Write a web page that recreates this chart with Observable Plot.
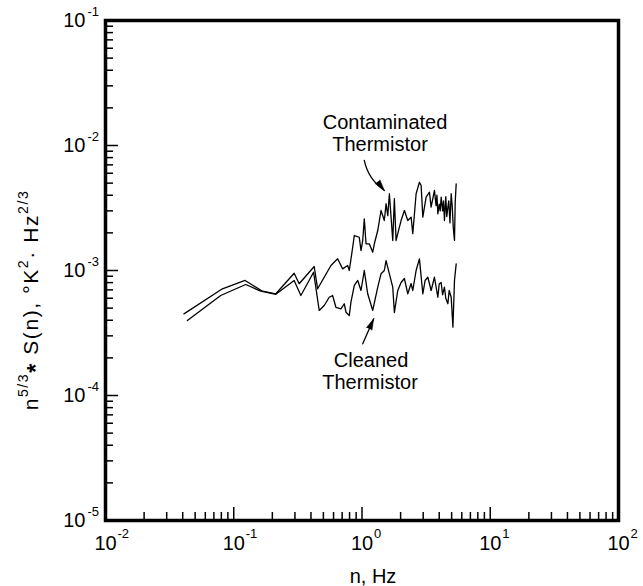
<!DOCTYPE html>
<html><head><meta charset="utf-8">
<script src="https://cdn.jsdelivr.net/npm/d3@7"></script>
<script src="https://cdn.jsdelivr.net/npm/@observablehq/plot@0.6"></script>
<style>body{margin:0;background:#fff}</style>
</head><body><div id="chart"></div>
<script>
// Contaminated thermistor: frequency n (Hz) and n^{5/3} S(n)
const contaminatedN = [0.0409,0.0816,0.1225,0.1676,0.2129,0.2958,0.3236,0.4239,0.4508,0.5726,0.6457,0.7066,0.7732,0.796,0.846,0.871,0.952,0.982,1.013,1.042,1.075,1.14,1.212,1.248,1.327,1.407,1.493,1.540,1.588,1.635,1.737,1.788,1.843,1.90,2.017,2.141,2.275,2.415,2.489,2.642,2.804,2.891,2.98,3.162,3.357,3.459,3.672,3.78,3.84,3.903,4.0,4.07,4.142,4.25,4.32,4.395,4.5,4.58,4.673,4.75,4.85,4.959,5.05,5.15,5.262,5.33,5.425];
const contaminatedV = [4.50e-4,7.14e-4,8.32e-4,6.83e-4,6.51e-4,9.51e-4,7.83e-4,1.076e-3,7.14e-4,1.096e-3,1.24e-3,1.03e-3,1.096e-3,1.0e-3,1.535e-3,1.905e-3,1.845e-3,1.445e-3,1.738e-3,2.59e-3,1.636e-3,1.636e-3,1.40e-3,1.636e-3,2.09e-3,3.02e-3,2.51e-3,3.42e-3,2.75e-3,4.11e-3,1.738e-3,3.75e-3,1.738e-3,1.97e-3,2.51e-3,3.02e-3,2.51e-3,2.67e-3,1.97e-3,4.11e-3,5.08e-3,4.79e-3,2.67e-3,3.86e-3,4.23e-3,3.21e-3,4.37e-3,3.3e-3,4.0e-3,2.84e-3,3.4e-3,3.0e-3,3.86e-3,3.0e-3,3.6e-3,2.51e-3,3.9e-3,2.7e-3,3.21e-3,3.6e-3,2.4e-3,4.11e-3,3.3e-3,2.2e-3,1.74e-3,3.5e-3,4.94e-3];
// Cleaned thermistor
const cleanedN = [0.0435,0.0791,0.124,0.1625,0.2129,0.2958,0.3337,0.4193,0.4638,0.5075,0.555,0.590,0.626,0.685,0.727,0.750,0.796,0.820,0.871,0.926,0.982,1.042,1.108,1.212,1.327,1.407,1.493,1.540,1.635,1.737,1.788,1.90,2.017,2.141,2.275,2.415,2.489,2.642,2.804,2.98,3.106,3.262,3.459,3.672,3.903,4.0,4.142,4.25,4.395,4.5,4.673,4.784,4.959,5.117,5.262,5.425];
const cleanedV = [3.98e-4,6.31e-4,7.73e-4,6.83e-4,6.45e-4,8.32e-4,6.31e-4,9.68e-4,4.79e-4,5.25e-4,6.11e-4,6.31e-4,5.08e-4,4.94e-4,5.42e-4,4.64e-4,4.37e-4,5.58e-4,7.59e-4,8.32e-4,6.92e-4,1.0e-3,6.51e-4,4.79e-4,7.35e-4,9.41e-4,1.0e-3,1.20e-3,9.41e-4,7.35e-4,4.61e-4,6.92e-4,8.02e-4,8.63e-4,6.51e-4,7.87e-4,6.92e-4,1.0e-3,1.24e-3,6.51e-4,8.32e-4,8.83e-4,6.92e-4,8.83e-4,6.11e-4,7.8e-4,8.02e-4,6.4e-4,7.35e-4,6.0e-4,5.42e-4,6.92e-4,6.11e-4,3.52e-4,8.32e-4,1.13e-3];

const xDecades = [1e-2, 1e-1, 1, 10, 100];
const xExponents = ["-2", "-1", "0", "1", "2"];
const yDecades = [1e-5, 1e-4, 1e-3, 1e-2, 1e-1];
const yExponents = ["-5", "-4", "-3", "-2", "-1"];

const labelTexts = ["Contaminated", "Thermistor", "Cleaned", "Thermistor"];
const labelN = [1.513, 1.382, 1.176, 1.155];
const labelV = [1.53e-2, 1.02e-2, 1.905e-4, 1.27e-4];

// arrows: from label towards curve
const arrowN1 = [1.042, 1.013];
const arrowV1 = [7.59e-3, 2.59e-4];
const arrowN2 = [1.494, 1.234];
const arrowV2 = [4.37e-3, 4.11e-4];
const arrowHeadRotate = [142, 24];

const contaminated = contaminatedN.map((n, i) => ({n, v: contaminatedV[i]}));
const cleaned = cleanedN.map((n, i) => ({n, v: cleanedV[i]}));
const xMinor = xDecades.slice(0, -1).flatMap(d => [2,3,4,5,6,7,8,9].map(k => d * k));
const yMinor = yDecades.slice(0, -1).flatMap(d => [2,3,4,5,6,7,8,9].map(k => d * k));
const xLab = xDecades.map((d, i) => ({d, e: xExponents[i]}));
const yLab = yDecades.map((d, i) => ({d, e: yExponents[i]}));
const labels = labelTexts.map((t, i) => ({t, n: labelN[i], v: labelV[i]}));
const arrows = arrowN1.map((n, i) => ({n1: n, v1: arrowV1[i], n2: arrowN2[i], v2: arrowV2[i], rot: arrowHeadRotate[i]}));

const W = 643, H = 586, ML = 105, MR = 25, MT = 20, MB = 66;
const FW = W - ML - MR, FH = H - MT - MB;

const chart = Plot.plot({
  width: W, height: H,
  marginLeft: ML, marginRight: MR, marginTop: MT, marginBottom: MB,
  x: {type: "log", domain: [1e-2, 1e2], axis: null},
  y: {type: "log", domain: [1e-5, 1e-1], axis: null},
  style: {fontFamily: "Liberation Sans, Arial, sans-serif", color: "black", background: "white"},
  marks: [
    Plot.tickX(xMinor, {x: d => d, insetTop: FH - 8, strokeWidth: 1.5}),
    Plot.tickX(xDecades, {x: d => d, insetTop: FH - 13, strokeWidth: 1.5}),
    Plot.tickY(yMinor, {y: d => d, insetRight: FW - 8, strokeWidth: 1.5}),
    Plot.tickY(yDecades, {y: d => d, insetRight: FW - 13, strokeWidth: 1.5}),
    Plot.line(contaminated, {x: "n", y: "v", stroke: "black", strokeWidth: 1.3, strokeLinejoin: "round"}),
    Plot.line(cleaned, {x: "n", y: "v", stroke: "black", strokeWidth: 1.3, strokeLinejoin: "round"}),
    Plot.arrow([arrows[0]], {x1: "n1", y1: "v1", x2: "n2", y2: "v2", bend: -22, headLength: 0, strokeWidth: 1.3, stroke: "black"}),
    Plot.arrow([arrows[1]], {x1: "n1", y1: "v1", x2: "n2", y2: "v2", bend: 0, headLength: 0, strokeWidth: 1.3, stroke: "black"}),
    Plot.vector(arrows, {x: "n2", y: "v2", rotate: "rot", length: 11, anchor: "end", shape: "spike", r: 3, fill: "black", stroke: "black", strokeWidth: 0.5}),
    Plot.text(labels, {x: "n", y: "v", text: "t", fontSize: 20, letterSpacing: 0.6, lineAnchor: "middle"}),
    Plot.text(xLab, {x: "d", frameAnchor: "bottom", dy: 23, text: () => "10", fontSize: 20, lineAnchor: "middle"}),
    Plot.text(xLab, {x: "d", frameAnchor: "bottom", dy: 13, dx: 12, text: "e", fontSize: 13, textAnchor: "start", lineAnchor: "middle"}),
    Plot.text(yLab, {y: "d", frameAnchor: "left", dx: -20, text: () => "10", fontSize: 20, textAnchor: "end", lineAnchor: "middle"}),
    Plot.text(yLab, {y: "d", frameAnchor: "left", dx: -18, dy: -9, text: "e", fontSize: 13, textAnchor: "start", lineAnchor: "middle"}),
    Plot.text(["n, Hz"], {frameAnchor: "bottom", dy: 56, dx: 11, text: d => d, fontSize: 20, letterSpacing: 1, lineAnchor: "middle"}),
    Plot.frame({stroke: "black", strokeWidth: 3.5})
  ]
});

// y-axis title with superscripts
const svg = d3.select(chart);
const t = svg.append("text")
  .attr("transform", "translate(38,300) rotate(-90)")
  .attr("text-anchor", "middle")
  .attr("font-family", "Liberation Sans, Arial, sans-serif")
  .attr("font-size", 21)
  .attr("letter-spacing", 1.6)
  .attr("fill", "black");
t.append("tspan").text("n");
t.append("tspan").attr("font-size", 14).attr("dy", -10).text("5/3");
t.append("tspan").attr("font-weight", "bold").attr("font-size", 23).attr("dy", 16).text("*");
t.append("tspan").attr("dy", -6).text(" S(n), °K");
t.append("tspan").attr("font-size", 14).attr("dy", -10).text("2");
t.append("tspan").attr("dy", 10).text("· Hz");
t.append("tspan").attr("font-size", 14).attr("dy", -10).text("2/3");

document.getElementById("chart").appendChild(chart);
</script>
</body></html>
